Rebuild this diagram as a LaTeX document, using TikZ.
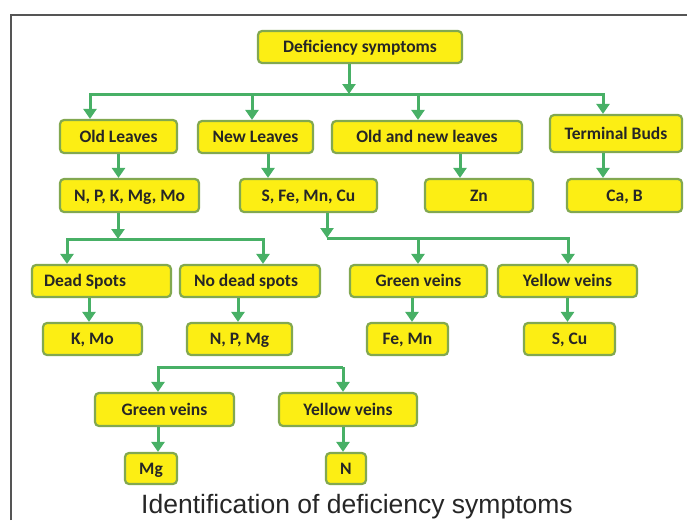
\documentclass[tikz,border=0pt]{standalone}
\usepackage{fontspec}
\setmainfont{Carlito}
\newfontfamily\capfont{Liberation Sans}
\usetikzlibrary{arrows.meta}
\definecolor{boxfill}{RGB}{252,238,20}
\definecolor{boxline}{RGB}{130,168,80}
\definecolor{arrcol}{RGB}{72,176,102}
\definecolor{framecol}{RGB}{85,85,85}
\newcommand\mkbox[6]{%
  \node[box, minimum width={(#3-#2)*1pt}, minimum height={(#5-#4)*1pt}]
    (#1) at ({(#2+#3)/2},{(#4+#5)/2}) {#6};}
\begin{document}
\begin{tikzpicture}[x=1pt,y=-1pt,
  box/.style={draw=boxline, fill=boxfill, line width=2.2pt, rounded corners=4pt,
    inner sep=0pt, text height=12pt, text depth=0.7pt,
    font=\bfseries\fontsize{17.5}{20}\selectfont, text=black!85},
  arr/.style={draw=arrcol, line width=3pt, -{Triangle[length=10pt,width=13pt]}},
  bus/.style={draw=arrcol, line width=3pt}]
\useasboundingbox (0,0) rectangle (687,520);
\draw[framecol, line width=1.5pt] (11,520) -- (11,15) -- (687,15);

\mkbox{root}{258}{462}{31}{63}{Deficiency symptoms}
\mkbox{old}{60}{177}{120}{153}{Old Leaves}
\mkbox{new}{198}{313}{121}{153}{New Leaves}
\mkbox{oan}{332}{522}{121}{153}{Old and new leaves}
\mkbox{tb}{550}{682}{115}{152}{Terminal Buds}
\mkbox{npk}{60}{199}{179}{212}{N, P, K, Mg, Mo}
\mkbox{sfe}{240}{377}{179}{212}{S, Fe, Mn, Cu}
\mkbox{zn}{425}{533}{179}{212}{Zn}
\mkbox{cab}{567}{682}{179}{212}{Ca, B}
\mkbox{ds}{32}{171}{265}{297}{Dead Spots\hspace*{33pt}}
\mkbox{nds}{180}{320}{265}{297}{No dead spots\hspace*{8pt}}
\mkbox{gv}{350}{487}{265}{297}{Green veins}
\mkbox{yv}{498}{637}{265}{297}{Yellow veins}
\mkbox{kmo}{43}{142}{323}{355}{K, Mo}
\mkbox{npmg}{187}{292}{323}{355}{N, P, Mg}
\mkbox{femn}{367}{448}{323}{355}{Fe, Mn}
\mkbox{scu}{524}{615}{323}{355}{S, Cu}
\mkbox{gvb}{95}{234}{393}{426}{Green veins}
\mkbox{yvb}{279}{417}{393}{426}{Yellow veins}
\mkbox{mg}{125}{177}{453}{484}{Mg}
\mkbox{nn}{326}{366}{453}{484}{N}

% level 1 bus
\coordinate (b1) at (349,94);
\coordinate (b1a) at (90,94);
\coordinate (b1b) at (252,94);
\coordinate (b1c) at (418,94);
\coordinate (b1d) at (603,94);
\draw[arr] (root.south -| b1) -- (b1);
\draw[arr] (b1) -| (old.north -| b1a);
\draw[arr] (b1) -| (tb.north -| b1d);
\draw[arr] (b1b) -- (new.north -| b1b);
\draw[arr] (b1c) -- (oan.north -| b1c);

% level 2
\coordinate (c1) at (old.south);
\coordinate (c2) at ([xshift=12.5pt]new.south);
\coordinate (c3) at ([xshift=33pt]oan.south);
\coordinate (c4) at (tb.south -| b1d);
\draw[arr] (c1) -- (c1 |- npk.north);
\draw[arr] (c2) -- (c2 |- sfe.north);
\draw[arr] (c3) -- (c3 |- zn.north);
\draw[arr] (c4) -- (c4 |- cab.north);

% bus 2
\coordinate (b2) at (118,239);
\coordinate (b2a) at (67,239);
\coordinate (b2b) at (263,239);
\draw[arr] (npk.south -| b2) -- (b2);
\draw[arr] (b2) -| (ds.north -| b2a);
\draw[arr] (b2) -| (nds.north -| b2b);

% bus 3
\coordinate (b3) at (327,238);
\coordinate (b3a) at (418,238);
\coordinate (b3b) at (568,238);
\draw[arr] (sfe.south -| b3) -- (b3);
\draw[arr] (b3) -| (yv.north -| b3b);
\draw[arr] (b3a) -- (gv.north -| b3a);

% level 4
\coordinate (d1) at ([xshift=-12.5pt]ds.south);
\coordinate (d2) at ([xshift=-12pt]nds.south);
\coordinate (d3) at ([xshift=-6.5pt]gv.south);
\coordinate (d4) at (yv.south);
\draw[arr] (d1) -- (d1 |- kmo.north);
\draw[arr] (d2) -- (d2 |- npmg.north);
\draw[arr] (d3) -- (d3 |- femn.north);
\draw[arr] (d4) -- (d4 |- scu.north);

% bus 4
\coordinate (b4a) at (158,367);
\coordinate (b4b) at (343,367);
\draw[arr] (b4b) -- (b4a) -- (gvb.north -| b4a);
\draw[arr] (b4b) -- (yvb.north -| b4b);
\draw[arr] (gvb.south -| b4a) -- (mg.north -| b4a);
\draw[arr] (yvb.south -| b4b) -- (nn.north -| b4b);

\node[font=\capfont\fontsize{26.5}{30}\selectfont, text=black!85, inner sep=0pt]
  (cap) at (357,507) {Identification of deficiency symptoms};
\end{tikzpicture}
\end{document}
